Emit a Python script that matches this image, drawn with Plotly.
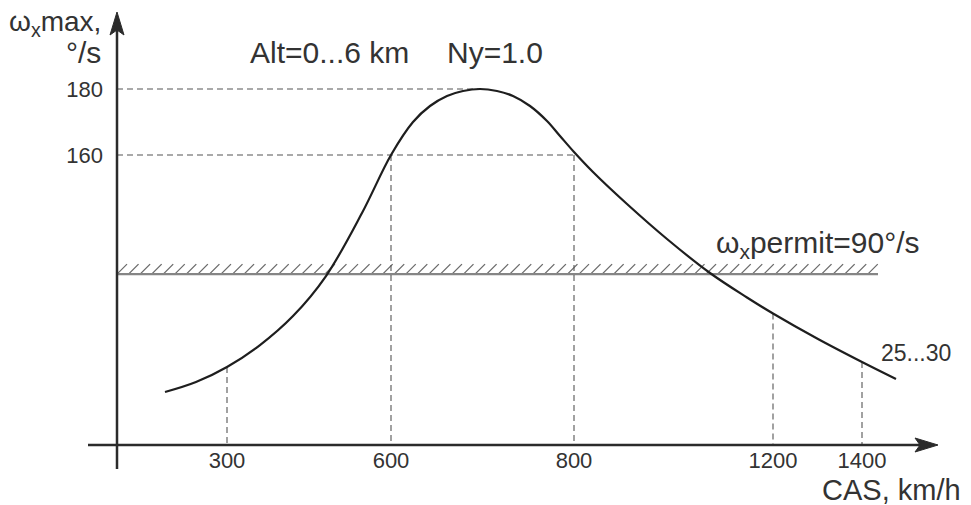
import numpy as np
import plotly.graph_objects as go

# ---------------- data (schematic diagram) ----------------
# positions along the CAS axis are schematic (non-linear in the original)
cas_tick_labels = ["300", "600", "800", "1200", "1400"]
cas_tick_pos = [227, 391, 574, 773, 862]
omega_at_ticks = [95.76, 160.0, 160.0, 111.97, 97.27]

omega_tick_vals = [160, 180]
omega_tick_labels = ["160", "180"]
omega_guide_end = [576, 480]          # curve position where each guide ends

curve_pos = [165, 196, 227, 260, 293, 326, 362, 391, 413, 430, 447, 463, 480,
             497, 513, 530, 547, 560, 574, 593, 627, 667, 710, 747, 773,
             818, 862, 896]
curve_omega = [88.18, 91.21, 95.76, 102.42, 111.21, 123.33, 142.42, 160.0,
               170.0, 174.85, 177.88, 179.39, 180.0, 179.39, 177.88, 174.85,
               170.30, 165.76, 160.91, 154.85, 145.15, 134.55, 124.24, 116.82,
               111.97, 104.24, 97.27, 92.12]

permit_level = 123.9                   # schematic level of the 90 deg/s line
permit_start, permit_end = 117, 878

# ---------------- layout constants ----------------
WIN_W, WIN_H = 971, 505
OFF = 8                                   # default page margin of the html body
W, H = WIN_W - OFF, WIN_H - OFF
PX_PER_UNIT = 3.3
Y_RANGE = [180 - (WIN_H - 89) / PX_PER_UNIT, 180 - (OFF - 89) / PX_PER_UNIT]
X_RANGE = [OFF, WIN_W]
ORIGIN_X = 117          # position of vertical axis
X_AXIS_PX = 445
X_AXIS_LEVEL = 180 - (X_AXIS_PX - 89) / PX_PER_UNIT
X_AXIS_START, X_AXIS_TIP = 88, 938
Y_AXIS_BOTTOM, Y_AXIS_TIP = 180 - (469 - 89) / PX_PER_UNIT, 180 - (12 - 89) / PX_PER_UNIT

AX_COL = "#2b2b2b"
TXT_COL = "#333333"
DASH_COL = "#555555"
FONT = "Liberation Sans, Arial, sans-serif"

fig = go.Figure()

# hatched permit line
hx, hy = [], []
dy = 10 / PX_PER_UNIT
for x0 in np.arange(permit_start, permit_end - 4, 11.55):
    hx += [x0, x0 + 10, None]
    hy += [permit_level, permit_level + dy, None]
fig.add_trace(go.Scatter(x=hx, y=hy, mode="lines",
                         line=dict(color="#6a6a6a", width=1.3),
                         hoverinfo="skip", showlegend=False))
fig.add_trace(go.Scatter(x=[permit_start, permit_end],
                         y=[permit_level, permit_level], mode="lines",
                         line=dict(color="#858585", width=2.2),
                         hoverinfo="skip", showlegend=False))

# dashed guides: vertical from curve to axis
vx, vy = [], []
for p, w in zip(cas_tick_pos, omega_at_ticks):
    vx += [p, p, None]
    vy += [w, X_AXIS_LEVEL, None]
# horizontal from axis to curve
for v, e in zip(omega_tick_vals, omega_guide_end):
    vx += [ORIGIN_X, e, None]
    vy += [v, v, None]
fig.add_trace(go.Scatter(x=vx, y=vy, mode="lines",
                         line=dict(color=DASH_COL, width=1.1, dash="6px,4px"),
                         hoverinfo="skip", showlegend=False))

# main curve
fig.add_trace(go.Scatter(x=curve_pos, y=curve_omega, mode="lines",
                         line=dict(color="#1e1e1e", width=2.2, shape="spline",
                                   smoothing=1.0),
                         hoverinfo="skip", showlegend=False))

# axes lines
u = 1 / PX_PER_UNIT
shapes = [
    dict(type="line", x0=X_AXIS_START, x1=X_AXIS_TIP - 10,
         y0=X_AXIS_LEVEL, y1=X_AXIS_LEVEL, line=dict(color=AX_COL, width=2.5)),
    dict(type="line", x0=ORIGIN_X, x1=ORIGIN_X, y0=Y_AXIS_BOTTOM,
         y1=Y_AXIS_TIP - 10 * u, line=dict(color=AX_COL, width=2.5)),
]
# arrowheads (length 23px, half-width 7px, notch 5px)
L, HW, N = 23, 7, 5
xa = (f"M {X_AXIS_TIP} {X_AXIS_LEVEL} L {X_AXIS_TIP - L} {X_AXIS_LEVEL + HW * u} "
      f"L {X_AXIS_TIP - L + N} {X_AXIS_LEVEL} L {X_AXIS_TIP - L} {X_AXIS_LEVEL - HW * u} Z")
ya = (f"M {ORIGIN_X} {Y_AXIS_TIP} L {ORIGIN_X - HW} {Y_AXIS_TIP - L * u} "
      f"L {ORIGIN_X} {Y_AXIS_TIP - (L - N) * u} L {ORIGIN_X + HW} {Y_AXIS_TIP - L * u} Z")
for p in (xa, ya):
    shapes.append(dict(type="path", path=p, fillcolor=AX_COL,
                       line=dict(color=AX_COL, width=1)))

big = dict(family=FONT, size=30, color=TXT_COL)
ann = [
    dict(x=103, y=200.0, text="ω<sub>x</sub>max,", xanchor="right", yanchor="middle",
         font=dict(family=FONT, size=28, color=TXT_COL)),
    dict(x=103, y=191.0, text="°/s", xanchor="right", yanchor="middle", font=big),
    dict(x=248, y=191.0, text="Alt=0...6 km", xanchor="left", yanchor="middle", font=big),
    dict(x=445, y=191.0, text="Ny=1.0", xanchor="left", yanchor="middle", font=big),
    dict(x=714, y=133.0, text="ω<sub>x</sub>permit=90°/s", xanchor="left", yanchor="middle", font=big),
    dict(x=879, y=100.0, text="25...30", xanchor="left", yanchor="middle",
         font=dict(family=FONT, size=23, color=TXT_COL)),
    dict(x=963, y=58.5, text="CAS, km/h", xanchor="right", yanchor="middle",
         font=dict(family=FONT, size=29, color=TXT_COL)),
]
for a in ann:
    a.update(xref="x", yref="y", showarrow=False)

fig.update_layout(
    width=W, height=H, autosize=False,
    margin=dict(l=0, r=0, t=0, b=0, pad=0),
    template="none",
    paper_bgcolor="white", plot_bgcolor="white",
    showlegend=False,
    shapes=shapes, annotations=ann,
    xaxis=dict(range=X_RANGE, domain=[0, 1], showgrid=False, zeroline=False,
               showline=False, ticks="", tickmode="array",
               tickvals=cas_tick_pos, ticktext=cas_tick_labels,
               tickfont=dict(family=FONT, size=22, color=TXT_COL),
               anchor="free", position=(WIN_H - X_AXIS_PX) / H,
               ticklabelstandoff=0, automargin=False, fixedrange=True),
    yaxis=dict(range=Y_RANGE, domain=[0, 1], showgrid=False, zeroline=False,
               showline=False, ticks="", tickmode="array",
               tickvals=omega_tick_vals, ticktext=omega_tick_labels,
               tickfont=dict(family=FONT, size=22, color=TXT_COL),
               anchor="free", position=(ORIGIN_X - OFF) / W,
               ticklabelstandoff=14, automargin=False, fixedrange=True),
)

fig.write_html("out.html")
